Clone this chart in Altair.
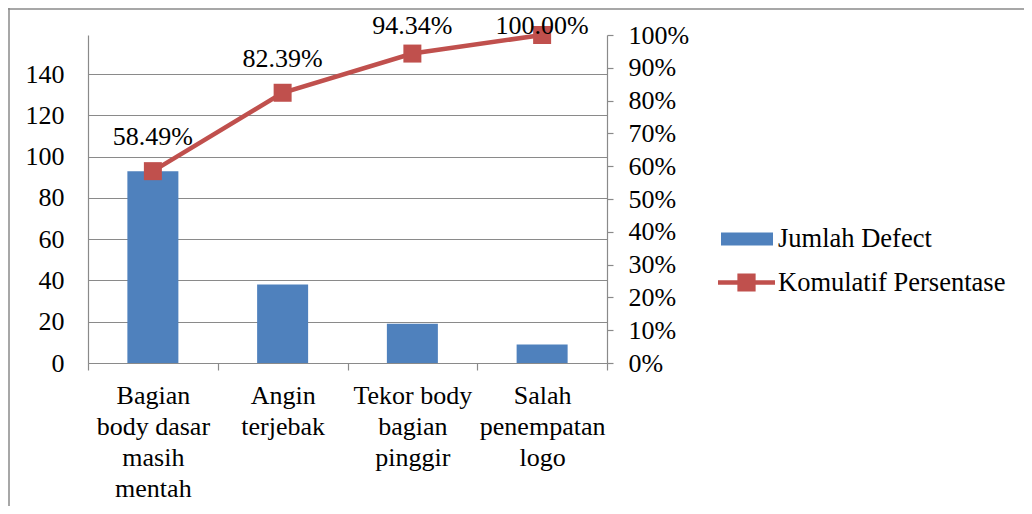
import altair as alt
import pandas as pd

# ---------------- data ----------------
categories = [
    "Bagian\nbody dasar\nmasih\nmentah",
    "Angin\nterjebak",
    "Tekor body\nbagian\npinggir",
    "Salah\npenempatan\nlogo",
]
defects = [93, 38, 19, 9]
cumulative = [0.5849, 0.8239, 0.9434, 1.0]
pct_labels = ["58.49%", "82.39%", "94.34%", "100.00%"]
left_ticks = [0, 20, 40, 60, 80, 100, 120, 140]
right_ticks = [0.0, 0.1, 0.2, 0.3, 0.4, 0.5, 0.6, 0.7, 0.8, 0.9, 1.0]
bar_series = "Jumlah Defect"
line_series = "Komulatif Persentase"

df = pd.DataFrame({"cat": categories, "defect": defects, "cum": cumulative, "lbl": pct_labels})

# ---------------- style ----------------
FONT = "Liberation Serif"
FS = 26
LFS = 26.5
BLUE = "#4F81BD"
RED = "#C0504D"
GRID = "#8A8A8A"
W, H = 519, 328
PAD = {"left": 80, "top": 27, "right": 417, "bottom": 143}

RECT_PATH = "M-1,-0.25H1V0.25H-1Z"
LINE_PATH = "M-1,-0.08H1V0.08H-1Z M-0.32,-0.32H0.32V0.32H-0.32Z"

x_enc = alt.X(
    "cat:N",
    sort=categories,
    scale=alt.Scale(paddingInner=0, paddingOuter=0),
    axis=alt.Axis(
        title=None,
        tickBand="extent",
        labelAngle=0,
        labelExpr="isValid(datum.value) ? split(datum.value, '\\n') : ''",
        labelLineHeight=31,
        tickSize=7,
        labelPadding=12,
        grid=False,
        labelLimit=0,
    ),
)

base = alt.Chart(df)

bars = base.transform_calculate(series=f"'{bar_series}'").mark_bar(size=51).encode(
    x=x_enc,
    y=alt.Y(
        "defect:Q",
        scale=alt.Scale(domain=[0, 159], nice=False, zero=True),
        axis=alt.Axis(
            orient="left",
            values=left_ticks,
            title=None,
            grid=True,
            gridColor=GRID,
            gridWidth=1.2,
            ticks=False,
            labelPadding=24,
        ),
    ),
    color=alt.Color(
        "series:N",
        scale=alt.Scale(domain=[bar_series], range=[BLUE]),
        legend=alt.Legend(
            title=None,
            orient="none",
            legendX=633,
            legendY=178,
            symbolType=RECT_PATH,
            symbolSize=2704,
            symbolStrokeWidth=0,
            symbolOpacity=1,
            labelOffset=5,
            padding=0,
        ),
    ),
)

right_scale = alt.Scale(domain=[0, 1], nice=False, zero=True)
right_axis = alt.Axis(
    orient="right",
    values=right_ticks,
    format=".0%",
    title=None,
    grid=False,
    tickSize=6,
    labelPadding=15,
)

line = base.mark_line(color=RED, strokeWidth=4.5).encode(
    x=x_enc,
    y=alt.Y("cum:Q", scale=right_scale, axis=right_axis),
)

points = base.transform_calculate(series=f"'{line_series}'").mark_point(
    shape="square", filled=True, size=324, opacity=1
).encode(
    x=x_enc,
    y=alt.Y("cum:Q", scale=right_scale, axis=right_axis),
    color=alt.Color(
        "series:N",
        scale=alt.Scale(domain=[line_series], range=[RED]),
        legend=alt.Legend(
            title=None,
            orient="none",
            legendX=630,
            legendY=219,
            symbolType=LINE_PATH,
            symbolSize=3249,
            symbolStrokeWidth=0,
            symbolOpacity=1,
            labelOffset=3,
            padding=0,
        ),
    ),
)

texts = base.transform_calculate(ly="min(datum.cum + 0.079, 1.003)").mark_text(
    font=FONT, fontSize=FS, baseline="alphabetic", align="center", color="black"
).encode(
    x=x_enc,
    y=alt.Y("ly:Q", scale=right_scale, axis=right_axis),
    text="lbl:N",
)

right = alt.layer(line, points, texts)

frame_df = pd.DataFrame({"k": [0]})
top_border = alt.Chart(frame_df).mark_rule(color=GRID, strokeWidth=1.5).encode(
    x=alt.value(-PAD["left"]), x2=alt.value(W + PAD["right"]), y=alt.value(-PAD["top"] + 1)
)
left_border = alt.Chart(frame_df).mark_rule(color=GRID, strokeWidth=1.5).encode(
    x=alt.value(-PAD["left"] + 1), y=alt.value(-PAD["top"]), y2=alt.value(H + PAD["bottom"])
)

chart = (
    alt.layer(top_border, left_border, bars, right)
    .resolve_scale(y="independent", color="independent")
    .properties(width=W, height=H, autosize=alt.AutoSizeParams(type="none"), padding=PAD)
    .configure_view(stroke=None)
    .configure_axis(
        labelFont=FONT,
        labelFontSize=FS,
        labelColor="black",
        domainColor=GRID,
        domainWidth=1.2,
        tickColor=GRID,
        tickWidth=1.2,
    )
    .configure_legend(labelFont=FONT, labelFontSize=LFS, labelColor="black", labelLimit=0)
)

chart.save("out.html", embed_options={"renderer": "svg", "actions": False})
